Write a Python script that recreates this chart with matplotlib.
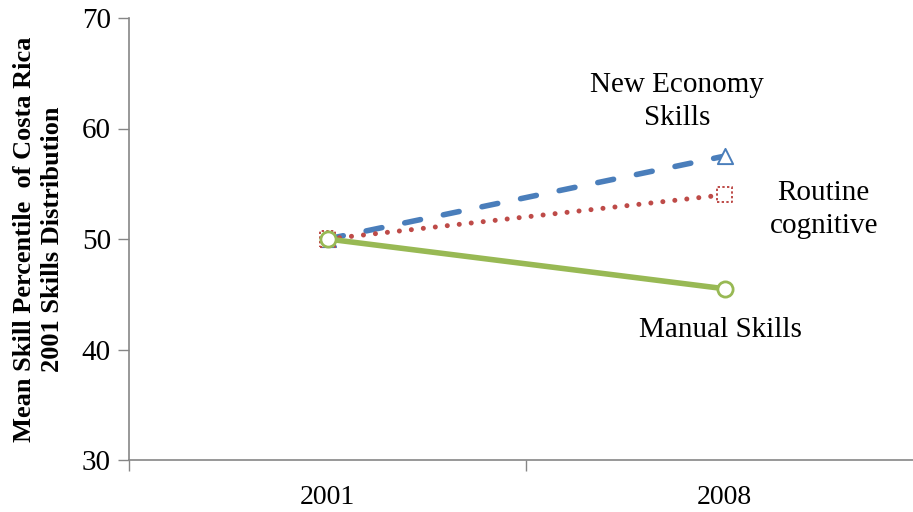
import matplotlib.pyplot as plt

years = ['2001', '2008']
new_economy = [50, 57.5]
routine_cognitive = [50, 54]
manual = [50, 45.5]

plt.rcParams['font.family'] = ['Liberation Serif', 'DejaVu Serif']

fig = plt.figure(figsize=(9.13, 5.12), dpi=100)
ax = fig.add_axes([129 / 913, 1 - 460 / 512, 794 / 913, 442 / 512])

x = list(range(len(years)))
blue, red, green = '#4A7EBB', '#BE4B48', '#98B954'

ax.plot(x, new_economy, color=blue, lw=4.0, ls=(0, (2.9, 4.2)),
        dash_capstyle='round', zorder=3)
ax.plot(x, routine_cognitive, color=red, lw=3.6, ls=(0, (0.01, 2.4)),
        dash_capstyle='round', zorder=3)
ax.plot(x, manual, color=green, lw=4.0, solid_capstyle='round', zorder=4)

# open markers; the routine square gets a dotted outline
ax.scatter(x, new_economy, marker='^', s=120, facecolors='white',
           edgecolors=blue, linewidths=1.4, zorder=5)
ax.scatter(x, routine_cognitive, marker='s', s=120, facecolors='white',
           edgecolors=red, linewidths=1.4, linestyles=(0, (1.2, 1.2)), zorder=5)
ax.scatter(x, manual, marker='o', s=120, facecolors='white',
           edgecolors=green, linewidths=2.0, zorder=6)

ax.set_xlim(-0.5, 1.5)
ax.set_ylim(30, 70)
ax.set_yticks([30, 40, 50, 60, 70])
ax.set_xticks([-0.5, 0.5, 1.5])
ax.set_xticklabels([])
ax.set_xticks(x, minor=True)
ax.set_xticklabels(years, minor=True)
ax.tick_params(axis='x', which='minor', length=0, pad=18, labelsize=20)
ax.tick_params(axis='x', which='major', length=8, color='#868686', width=1)
ax.tick_params(axis='y', length=8, color='#868686', width=1, pad=5, labelsize=21)

for side in ('top', 'right'):
    ax.spines[side].set_visible(False)
for side in ('left', 'bottom'):
    ax.spines[side].set_color('#868686')
    ax.spines[side].set_linewidth(1.2)

ax.set_ylabel('Mean Skill Percentile  of Costa Rica\n2001 Skills Distribution',
              fontsize=19, fontweight='bold', labelpad=13, linespacing=1.25)

ax.text(0.88, 62.4, 'New Economy\nSkills', ha='center', va='center',
        fontsize=21, linespacing=1.35)
ax.text(1.25, 52.7, 'Routine\ncognitive', ha='center', va='center',
        fontsize=21, linespacing=1.35)
ax.text(0.99, 41.8, 'Manual Skills', ha='center', va='center', fontsize=21)

fig.savefig('out.png', dpi=100)
